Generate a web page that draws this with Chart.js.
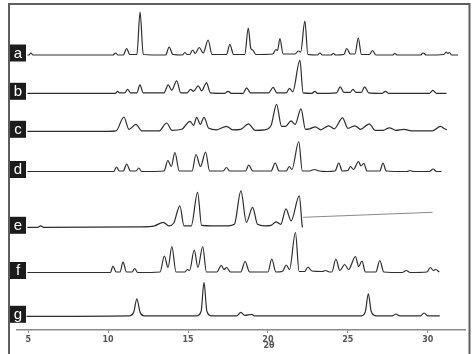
<!DOCTYPE html>
<html><head><meta charset="utf-8">
<script src="https://cdn.jsdelivr.net/npm/chart.js@4/dist/chart.umd.min.js"></script>
<style>html,body{margin:0;padding:0;background:#fff;}#wrap{position:relative;width:476px;height:354px;}</style>
</head><body><div id="wrap"><canvas id="c" width="476" height="354"></canvas></div>
<script>
const LABELS = ['a','b','c','d','e','f','g'];
const TICKS = [5,10,15,20,25,30];
const AXIS_TITLE = '2θ';

const TRACE_A = [[4.95,0],[5.05,0],[5.17,2],[5.3,0],[10.3,0],[10.47,2],[10.62,0],[10.95,0],[11.16,6.5],[11.35,0.5],
[11.8,0.5],[12.0,43],[12.2,0.5],[13.6,0],[13.82,8],[14.05,0.5],[14.65,0],[14.8,2.5],[14.95,0.5],
[15.1,0.5],[15.29,5],[15.45,1.5],[15.7,7.5],[15.95,2],[16.26,15],[16.5,0.5],[17.4,0.5],[17.62,10.5],[17.85,0.5],
[18.55,0.5],[18.77,27],[18.93,6.5],[19.05,5],[19.25,0.5],[20.3,1],[20.5,5.5],[20.6,4.5],[20.75,16.5],[20.95,1],
[21.7,1],[21.9,4],[22.05,3],[22.31,34],[22.5,0.5],[23.1,0],[23.25,2],[23.4,0],[23.95,0],[24.09,1.5],[24.25,0],
[24.75,0.5],[24.93,6.5],[25.15,1],[25.45,1],[25.65,17],[25.85,0.5],[26.35,0.5],[26.55,4.5],[26.75,0],
[27.8,0],[27.94,1.5],[28.1,0],[29.55,0],[29.71,2],[29.9,0],[31.0,0.5],[31.15,3],[31.25,1.5],[31.35,2.5],[31.5,0],[31.9,0]];

const TRACE_B = [[4.95,0],[10.45,0],[10.59,2],[10.72,0.5],[11.05,0.5],[11.22,4],[11.4,0.5],[11.8,0.5],[11.99,8.5],[12.2,0.5],
[13.5,0.5],[13.76,8.5],[13.98,3],[14.29,12.5],[14.55,0.5],[14.95,0.5],[15.16,4],[15.35,2],[15.64,7.5],[15.85,2.5],[16.16,10.5],[16.4,0.5],
[17.3,0],[17.51,2],[17.7,0],[18.45,0],[18.67,5.5],[18.9,0.5],[20.05,0.5],[20.33,6],[20.55,0.5],
[21.15,0.5],[21.35,5],[21.55,1.5],[22.0,33],[22.2,0.5],[22.75,0],[22.94,2],[23.1,0],
[24.3,0.5],[24.52,6.5],[24.75,1],[25.15,1],[25.32,4],[25.5,1],[25.85,1],[26.05,6.5],[26.3,0.5],
[27.15,0],[27.35,2],[27.55,0],[30.1,0],[30.32,3],[30.55,0],[31.17,0]];

const TRACE_C = [[4.95,0],[10.0,0],[10.5,0.5],[10.99,14.3],[11.3,2],[11.74,7],[12.1,0.5],
[13.2,0.5],[13.66,8.3],[14.0,1],[14.6,2],[15.12,10],[15.35,6],[15.54,14],[15.77,7],[16.0,14],[16.3,3],[16.8,1.5],
[17.4,5],[17.8,1.5],[18.3,2],[18.78,7.5],[19.2,1],[19.8,1.5],[20.2,6],[20.54,27],[20.85,5],[21.1,5],[21.45,10.5],[21.7,7],[22.07,22.5],[22.35,2],[22.6,2.5],
[22.97,4.5],[23.3,1.5],[23.8,5.5],[24.15,2.5],[24.67,13.5],[25.0,3],[25.44,5.5],[25.8,2],[26.34,7.5],[26.7,1],[27.2,1],[27.6,3.5],[28.0,1],[28.5,2],[29.0,0.5],
[30.3,0.5],[30.8,5],[31.05,2.5],[31.2,1.5]];

const TRACE_D = [[4.95,0],[10.35,0],[10.53,4.5],[10.7,0.5],[10.95,0.5],[11.16,7.5],[11.4,0.5],[11.75,0.5],[11.92,3.5],[12.1,0],
[13.5,0.5],[13.74,11],[13.95,5],[14.18,19],[14.45,0.5],[15.25,0.5],[15.5,17],[15.78,5],[16.1,19.5],[16.35,0.5],
[17.2,0.5],[17.41,4],[17.6,0.5],[18.6,0.5],[18.8,6.5],[19.05,0.5],[20.2,0.5],[20.45,8.5],[20.7,0.5],
[21.15,0.5],[21.33,5],[21.5,2],[21.93,30],[22.15,0.5],[22.6,0.5],[22.9,2],[23.2,0.5],[23.7,0],
[24.2,0.5],[24.43,8.5],[24.65,0.5],[25.0,1],[25.17,5],[25.35,2],[25.67,10],[25.82,5.5],[26.0,8],[26.2,0.5],
[27.0,0.5],[27.2,8.5],[27.4,0.5],[28.7,0],[28.9,1],[29.1,0],[30.1,0],[30.34,2.5],[30.55,0],[30.86,0]];

const TRACE_E = [[4.95,0],[5.6,0],[5.78,1.5],[5.95,0],[12.0,0.5],[12.9,1.5],[13.45,5],[13.8,1.5],[14.1,4],[14.49,21.5],[14.75,1.5],
[15.2,1.5],[15.6,35],[15.85,2],[16.5,1.5],[17.5,1.5],[17.9,3],[18.31,36.5],[18.65,5],[19.04,20],[19.35,3],[19.8,1.5],
[20.2,2],[20.5,5.5],[20.8,3],[21.13,18.5],[21.45,6.5],[21.96,31.5],[22.15,1],[22.18,0]];

const EXTENSION_E = [[22.18,10],[30.3,15]];

const TRACE_F = [[4.95,0],[10.15,0],[10.3,6.5],[10.5,0.5],[10.75,0.5],[10.93,10.5],[11.15,0.5],[11.5,0.5],[11.66,4],[11.85,0],
[13.25,0.5],[13.52,16.5],[13.75,5],[13.99,26],[14.25,0.5],[14.8,0.5],[14.96,3],[15.1,2],[15.39,22.5],[15.62,5],[15.92,26],[16.15,0.5],
[16.8,0.5],[17.08,7],[17.25,3],[17.42,5],[17.65,0.5],[18.3,0.5],[18.57,11],[18.85,0.5],[20.0,0.5],[20.24,13.5],[20.5,0.5],
[20.9,1],[21.15,7.5],[21.35,3],[21.72,40],[21.95,1],[22.3,1],[22.5,5.5],[22.75,1.5],[23.4,1],[23.6,2],[23.85,0.5],
[24.0,0.5],[24.25,13.5],[24.5,2],[24.8,8],[25.05,3],[25.47,16],[25.68,6],[25.88,11.5],[26.1,0.5],
[26.75,0.5],[27.0,12],[27.25,0.5],[28.4,0],[28.65,2],[28.9,0],[29.95,0.5],[30.16,5],[30.35,2],[30.5,3],[30.72,0.5]];

const TRACE_G = [[4.9,0],[11.35,0.5],[11.6,4],[11.8,17.5],[12.0,4],[12.25,0.5],[15.55,0.5],[15.82,5],[16.0,34],[16.18,5],[16.45,0.5],
[18.05,0.5],[18.3,4],[18.55,1],[18.98,2],[19.15,0.5],[25.85,0.5],[26.1,5],[26.28,22.5],[26.46,5],[26.75,0.5],
[27.8,0.5],[28.0,2.3],[28.25,0.5],[29.55,0.5],[29.77,3.3],[30.0,0.5],[30.75,0.5]];

const TRACES = [TRACE_A, TRACE_B, TRACE_C, TRACE_D, TRACE_E, TRACE_F, TRACE_G];
const OFFSETS = [275, 236.7, 198.7, 158.5, 102.7, 57.5, 13.7];

const datasets = TRACES.map((t, i) => ({
  label: LABELS[i],
  data: t.map(p => ({x: p[0], y: p[1] + OFFSETS[i]})),
  borderColor: '#2e2e2e', borderWidth: 1.2, pointRadius: 0, fill: false,
  cubicInterpolationMode: 'monotone'
}));
datasets.push({
  label: 'e-ext',
  data: EXTENSION_E.map(p => ({x: p[0], y: p[1] + OFFSETS[4]})),
  borderColor: '#8a8a8a', borderWidth: 1, pointRadius: 0, fill: false, tension: 0
});

const decor = {
  id: 'decor',
  afterDraw(chart) {
    const ctx = chart.ctx, ys = chart.scales.y, xs = chart.scales.x;
    ctx.save();
    // frame
    ctx.strokeStyle = '#5e5e5e'; ctx.lineWidth = 2;
    ctx.beginPath(); ctx.moveTo(9, 354); ctx.lineTo(9, 4); ctx.lineTo(469.5, 4); ctx.lineTo(469.5, 354); ctx.stroke();
    // label boxes
    LABELS.forEach((l, i) => {
      const cy = ys.getPixelForValue(OFFSETS[i]) - 2;
      ctx.fillStyle = '#1c1c1c';
      ctx.fillRect(10, cy - 8.5, 16, 17);
      ctx.fillStyle = '#ffffff';
      ctx.font = '15px "Liberation Sans", Arial, sans-serif';
      ctx.textAlign = 'center'; ctx.textBaseline = 'middle';
      ctx.fillText(l, 18, cy + 0.5);
    });
    // axis title
    ctx.fillStyle = '#555';
    ctx.font = 'bold 8px "DejaVu Sans", sans-serif';
    ctx.textAlign = 'center'; ctx.textBaseline = 'middle';
    ctx.fillText(AXIS_TITLE, xs.getPixelForValue(20) + 1, 345.5);
    ctx.restore();
  }
};

new Chart(document.getElementById('c'), {
  type: 'line',
  data: { datasets },
  options: {
    responsive: false, animation: false, devicePixelRatio: 1,
    layout: { padding: { left: 17, right: 11, top: 5, bottom: 0 } },
    plugins: { legend: { display: false }, tooltip: { enabled: false } },
    scales: {
      x: {
        type: 'linear', min: 4.3, max: 32.33,
        afterFit: s => { s.height = 24; },
        afterBuildTicks: s => { s.ticks = TICKS.map(v => ({ value: v })); },
        grid: { display: true, drawOnChartArea: false, drawTicks: true, tickLength: 3, color: '#8a8a8a', lineWidth: 1 },
        border: { display: true, color: '#8a8a8a', width: 1.5 },
        ticks: { font: { size: 8, weight: 'bold', family: '"DejaVu Sans", sans-serif' }, color: '#555', padding: 2, maxRotation: 0 }
      },
      y: { display: false, min: 0, max: 325 }
    }
  },
  plugins: [decor]
});
</script></body></html>
